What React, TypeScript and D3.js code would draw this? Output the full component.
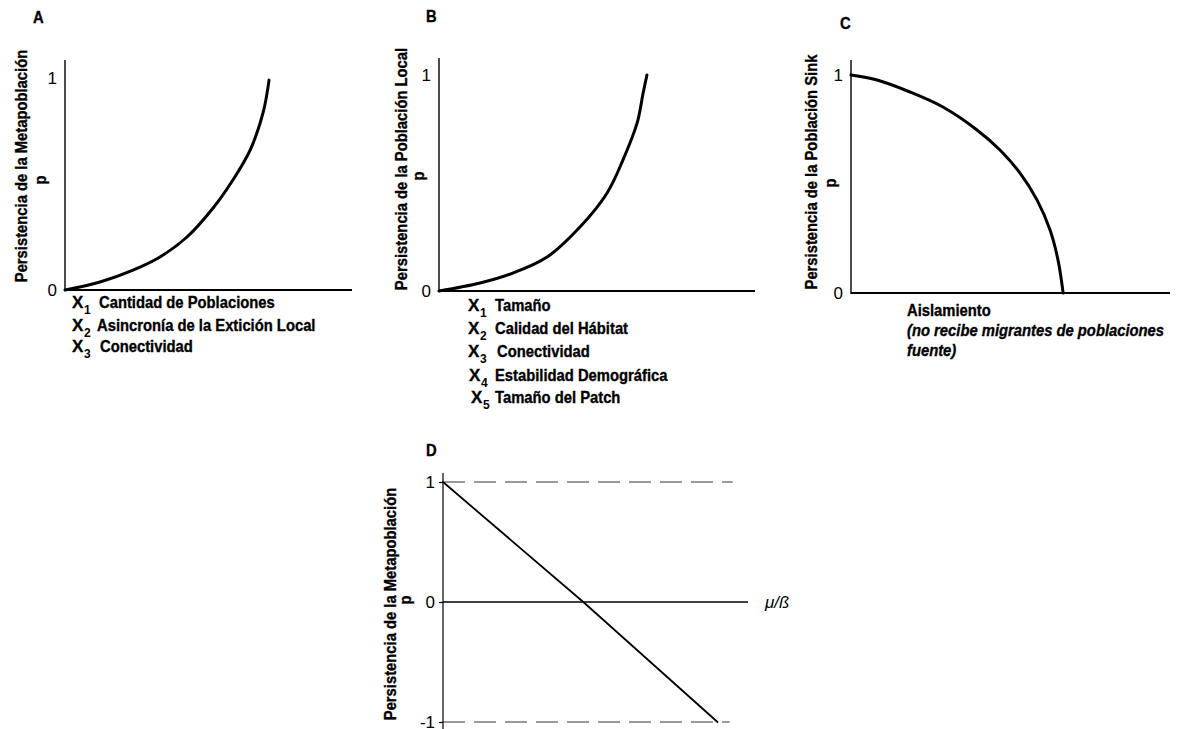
import React, { useRef, useEffect } from "react";
import * as d3 from "d3";

// panel A: persistencia de la metapoblación vs X1..X3
const curveAx = [0, 1.22, 2.37, 3.31, 4.25, 5.16, 5.85, 6.45, 6.9, 7.11];
const curveAy = [0, 0.038, 0.094, 0.156, 0.25, 0.387, 0.519, 0.66, 0.835, 0.99];
const labelsA = [
  ["1", "Cantidad de Poblaciones"],
  ["2", "Asincronía de la Extición Local"],
  ["3", "Conectividad"],
];

// panel B: persistencia de la población local
const curveBx = [0, 1.3, 2.34, 3.42, 4.46, 5.32, 5.82, 6.27, 6.46, 6.58];
const curveBy = [0, 0.037, 0.083, 0.157, 0.296, 0.454, 0.606, 0.778, 0.917, 1.0];
const labelsB = [
  ["1", "Tamaño"],
  ["2", "Calidad del Hábitat"],
  ["3", "Conectividad"],
  ["4", "Estabilidad Demográfica"],
  ["5", "Tamaño del Patch"],
];

// panel C: persistencia de la población sink vs aislamiento
const curveCx = [0, 0.82, 1.85, 2.88, 3.95, 4.67, 5.3, 5.83, 6.24, 6.49, 6.65];
const curveCy = [1, 0.977, 0.922, 0.853, 0.748, 0.656, 0.55, 0.427, 0.289, 0.151, 0];
const labelsC = ["Aislamiento", "(no recibe migrantes de poblaciones", "fuente)"];

// panel D: p vs mu/beta
const lineDx = [0, 4.6, 9.0];
const lineDy = [1, 0, -1];
const dashEndD = [9.5, 9.4]; // where the dashed guides at 1 and -1 stop

const ticksABC = [0, 1];
const ticksD = [-1, 0, 1];

const FONT = "'Liberation Sans', Arial, Helvetica, sans-serif";
const SQUEEZE = 0.87; // the print uses a condensed face

function App() {
  const ref = useRef(null);

  useEffect(() => {
    const svg = d3.select(ref.current);
    svg.selectAll("*").remove();

    const zip = (xs, ys) => xs.map((x, i) => ({ x: x, y: ys[i] }));

    // condensed heavy text
    function ctext(g, x, y, str, size, rot, italic) {
      return g.append("text")
        .attr("transform", "translate(" + x + "," + y + ")" + (rot ? " rotate(-90)" : "") + " scale(" + SQUEEZE + ",1)")
        .attr("font-family", FONT)
        .attr("font-weight", "bold")
        .attr("font-style", italic ? "italic" : "normal")
        .attr("font-size", size)
        .attr("text-anchor", rot ? "middle" : "start")
        .attr("fill", "#000")
        .attr("stroke", "#000")
        .attr("stroke-width", 0.35)
        .text(str);
    }

    function panel(opt) {
      const g = svg.append("g");
      const x = d3.scaleLinear().domain([0, 10]).range([opt.left, opt.right]);
      const y = d3.scaleLinear().domain([0, 1]).range([opt.zeroY, opt.oneY]);

      // panel letter
      ctext(g, opt.letter[0], opt.letter[1], opt.name, 17, false);

      // y axis, ticks only as labels
      const ax = g
        .append("g")
        .attr("transform", "translate(" + opt.left + ",0)")
        .call(d3.axisLeft(y).tickValues(opt.ticks).tickSize(opt.tickSize || 0).tickPadding(opt.pad || 8).tickFormat((d) => String(d)));
      ax.select(".domain").remove();
      ax.selectAll("line").attr("stroke", "#000").attr("stroke-width", 1.2);
      ax.selectAll("text")
        .attr("font-family", FONT)
        .attr("font-size", 17)
        .attr("fill", "#000");

      g.append("line")
        .attr("x1", opt.left).attr("x2", opt.left)
        .attr("y1", opt.top).attr("y2", opt.axisBottom || opt.zeroY + 1)
        .attr("stroke", "#000")
        .attr("stroke-width", opt.yAxisW || 1.4);

      g.append("line")
        .attr("x1", opt.left).attr("x2", opt.right)
        .attr("y1", y(0)).attr("y2", y(0))
        .attr("stroke", "#000")
        .attr("stroke-width", opt.xAxisW || 2);

      // rotated y title + "p"
      ctext(g, opt.title[0], opt.title[1], opt.titleText, 17, true);
      ctext(g, opt.pPos[0], opt.pPos[1], "p", 17, true);

      return { g: g, x: x, y: y };
    }

    function curve(p, data, w, shape) {
      p.g.append("path")
        .datum(data)
        .attr("fill", "none")
        .attr("stroke", "#000")
        .attr("stroke-width", w)
        .attr("stroke-linecap", "round")
        .attr("d", d3.line().x((d) => p.x(d.x)).y((d) => p.y(d.y)).curve(shape));
    }

    function xLabels(g, rows, xs, baselines) {
      rows.forEach((r, i) => {
        g.append("text")
          .attr("x", xs[i][0]).attr("y", baselines[i])
          .attr("font-family", FONT).attr("font-weight", "bold").attr("font-size", 17)
          .attr("stroke", "#000").attr("stroke-width", 0.3)
          .text("X");
        g.append("text")
          .attr("x", xs[i][0] + 12).attr("y", baselines[i] + 6)
          .attr("font-family", FONT).attr("font-weight", "bold").attr("font-size", 12)
          .text(r[0]);
        ctext(g, xs[i][1], baselines[i], r[1], 17, false);
      });
    }

    // ---- A
    const A = panel({
      name: "A", letter: [33, 23], left: 65, right: 352, top: 60, zeroY: 290, oneY: 78,
      ticks: ticksABC, title: [27, 166], pPos: [46, 180],
      titleText: "Persistencia de la Metapoblación",
    });
    curve(A, zip(curveAx, curveAy), 3, d3.curveCatmullRom.alpha(0.5));
    xLabels(A.g, labelsA, [[72, 99], [72, 97], [72, 100]], [308, 331, 352]);

    // ---- B
    const B = panel({
      name: "B", letter: [426, 22], left: 439, right: 755, top: 58, zeroY: 291, oneY: 75,
      ticks: ticksABC, title: [407, 169], pPos: [424, 176],
      titleText: "Persistencia de la Población Local",
    });
    curve(B, zip(curveBx, curveBy), 3, d3.curveCatmullRom.alpha(0.5));
    xLabels(B.g, labelsB, [[468, 495], [468, 495], [468, 497], [469, 495], [471, 495]], [311, 334, 357, 381, 403]);

    // ---- C
    const C = panel({
      name: "C", letter: [840, 29], left: 851, right: 1170, top: 60, zeroY: 293, oneY: 75,
      ticks: ticksABC, title: [817, 172], pPos: [836, 183],
      titleText: "Persistencia de la Población Sink",
    });
    curve(C, zip(curveCx, curveCy), 3, d3.curveCatmullRom.alpha(0.5));
    labelsC.forEach((s, i) => ctext(C.g, 907, 316 + i * 20, s, 17, false, i > 0));

    // ---- D
    const D = panel({
      name: "D", letter: [426, 456], left: 443, right: 748, top: 473, zeroY: 602, oneY: 482,
      axisBottom: 729, yAxisW: 1.2, xAxisW: 1.5, tickSize: 4, pad: 4,
      ticks: ticksD, title: [396, 604], pPos: [411, 600],
      titleText: "Persistencia de la Metapoblación",
    });
    [1, -1].forEach((v, i) => {
      D.g.append("line")
        .attr("x1", D.x(0)).attr("x2", D.x(dashEndD[i]))
        .attr("y1", D.y(v)).attr("y2", D.y(v))
        .attr("stroke", "#333")
        .attr("stroke-width", 1)
        .attr("stroke-dasharray", "22,9");
    });
    curve(D, zip(lineDx, lineDy), 1.8, d3.curveLinear);
    D.g.append("text")
      .attr("x", 765).attr("y", 608)
      .attr("font-family", FONT)
      .attr("font-style", "italic")
      .attr("font-size", 17)
      .text("μ/ß");
  }, []);

  return (
    <svg
      ref={ref}
      width={1182}
      height={729}
      style={{ position: "absolute", left: 0, top: 0, background: "#fff" }}
    />
  );
}

export default App;
